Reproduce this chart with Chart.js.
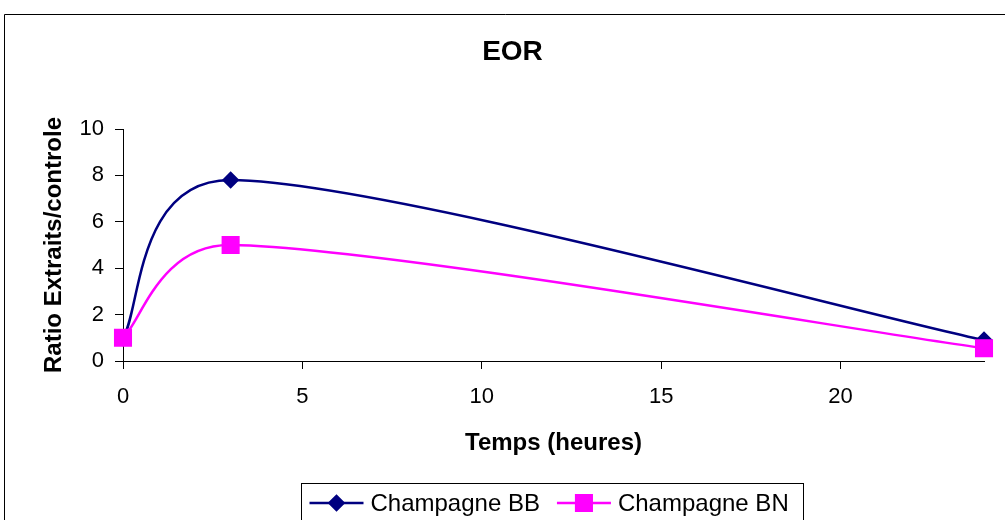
<!DOCTYPE html>
<html>
<head>
<meta charset="utf-8">
<script src="https://cdn.jsdelivr.net/npm/chart.js@4/dist/chart.umd.min.js"></script>
<style>
  html, body { margin: 0; padding: 0; background: #fff; }
  #wrap { width: 1005px; height: 520px; }
</style>
</head>
<body>
<div id="wrap"><canvas id="eorChart"></canvas></div>
<script>
var hours = [0, 3, 24];
var champagneBB = [1, 7.8, 0.9];
var champagneBN = [1, 5, 0.55];
var xTicks = [0, 5, 10, 15, 20];
var yTicks = [0, 2, 4, 6, 8, 10];

var FONT = "'Liberation Sans', Arial, sans-serif";

function toPoints(values) {
    return values.map(function (v, i) { return { x: hours[i], y: v }; });
}

// lissage facon Excel : Catmull-Rom (1/6), bras limites a la moitie du segment voisin
var excelSmooth = {
    id: 'excelSmooth',
    beforeDatasetsDraw: function (chart) {
        chart.getSortedVisibleDatasetMetas().forEach(function (meta) {
            var pts = meta.data, line = meta.dataset;
            if (!line || pts.length < 2) return;
            pts.forEach(function (p, i) {
                var prev = pts[i - 1] || p, next = pts[i + 1] || p;
                var tx = (next.x - prev.x) / 6, ty = (next.y - prev.y) / 6;
                var len = Math.sqrt(tx * tx + ty * ty) || 1;
                var dPrev = Math.sqrt(Math.pow(p.x - prev.x, 2) + Math.pow(p.y - prev.y, 2));
                var dNext = Math.sqrt(Math.pow(next.x - p.x, 2) + Math.pow(next.y - p.y, 2));
                var kPrev = Math.min(1, dPrev / 2 / len), kNext = Math.min(1, dNext / 2 / len);
                p.cp1x = p.x - tx * kPrev;
                p.cp1y = p.y - ty * kPrev;
                p.cp2x = p.x + tx * kNext;
                p.cp2y = p.y + ty * kNext;
            });
            line._pointsUpdated = true;
        });
    }
};

// cadre exterieur + legende encadree
var excelFrame = {
    id: 'excelFrame',
    beforeDraw: function (chart) {
        var ctx = chart.ctx;
        ctx.save();
        ctx.fillStyle = '#fff';
        ctx.fillRect(0, 0, chart.width, chart.height);
        ctx.strokeStyle = '#000';
        ctx.lineWidth = 1;
        ctx.beginPath();
        ctx.moveTo(4.5, chart.height + 2);
        ctx.lineTo(4.5, 14.5);
        ctx.lineTo(chart.width + 2, 14.5);
        ctx.stroke();
        ctx.restore();
    },
    afterDraw: function (chart) {
        var ctx = chart.ctx;
        var sets = chart.data.datasets;
        ctx.save();
        ctx.font = '24px ' + FONT;
        ctx.textBaseline = 'middle';
        var boxLeft = 301.5, boxTop = 483.5, boxW = 502;
        ctx.strokeStyle = '#000';
        ctx.lineWidth = 1;
        ctx.strokeRect(boxLeft, boxTop, boxW, 60);
        var x = boxLeft + 8, y = 503;
        sets.forEach(function (ds) {
            ctx.strokeStyle = ds.borderColor;
            ctx.lineWidth = 2.5;
            ctx.beginPath();
            ctx.moveTo(x, y);
            ctx.lineTo(x + 54, y);
            ctx.stroke();
            Chart.helpers.drawPoint(ctx, {
                pointStyle: ds.pointStyle,
                radius: ds.pointRadius,
                borderWidth: 1
            }, x + 27, y);
            ctx.fillStyle = ds.pointBackgroundColor;
            ctx.fill();
            ctx.fillStyle = '#000';
            ctx.fillText(ds.label, x + 61, y + 1);
            x += 61 + ctx.measureText(ds.label).width + 17;
        });
        ctx.restore();
    }
};

var ctxEl = document.getElementById('eorChart');
var eorChart = new Chart(ctxEl, {
    type: 'line',
    data: {
        datasets: [{
                label: 'Champagne BB',
                data: toPoints(champagneBB),
                borderColor: '#000080',
                backgroundColor: '#000080',
                pointBackgroundColor: '#000080',
                pointBorderColor: '#000080',
                pointStyle: 'rectRot',
                pointRadius: 7,
                pointHoverRadius: 7,
                borderWidth: 2.5,
                tension: 0.2,
                order: 1,
                clip: false
            }, {
                label: 'Champagne BN',
                data: toPoints(champagneBN),
                borderColor: '#FF00FF',
                backgroundColor: '#FF00FF',
                pointBackgroundColor: '#FF00FF',
                pointBorderColor: '#FF00FF',
                pointStyle: 'rect',
                pointRadius: 11,
                pointHoverRadius: 11,
                borderWidth: 2.5,
                tension: 0.2,
                order: 0,
                clip: false
            }]
    },
    options: {
        responsive: true,
        maintainAspectRatio: false,
        animation: false,
        layout: {
            padding: { top: 0, left: 41, right: 21, bottom: 64 }
        },
        plugins: {
            legend: { display: false },
            tooltip: { enabled: false },
            title: {
                display: true,
                text: 'EOR',
                color: '#000',
                font: { family: FONT, size: 28, weight: 'bold' },
                padding: { top: 35, bottom: 60.4 }
            }
        },
        scales: {
            x: {
                type: 'linear',
                min: 0,
                max: 24,
                afterFit: function (scale) { scale.height = 95; },
                afterBuildTicks: function (scale) {
                    scale.ticks = xTicks.map(function (v) { return { value: v }; });
                },
                ticks: {
                    color: '#000',
                    font: { family: FONT, size: 22 },
                    padding: 15,
                    maxRotation: 0
                },
                grid: {
                    display: true,
                    drawOnChartArea: false,
                    drawTicks: true,
                    tickLength: 8,
                    color: '#000'
                },
                border: { display: true, color: '#000', width: 1 },
                title: {
                    display: true,
                    text: 'Temps (heures)',
                    color: '#000',
                    font: { family: FONT, size: 24, weight: 'bold' },
                    padding: { top: 0, bottom: -2 }
                }
            },
            y: {
                min: 0,
                max: 10,
                afterFit: function (scale) { scale.width = 82; },
                afterBuildTicks: function (scale) {
                    scale.ticks = yTicks.map(function (v) { return { value: v }; });
                },
                ticks: {
                    color: '#000',
                    font: { family: FONT, size: 22 },
                    padding: 11
                },
                grid: {
                    display: true,
                    drawOnChartArea: false,
                    drawTicks: true,
                    tickLength: 8,
                    color: '#000'
                },
                border: { display: true, color: '#000', width: 1 },
                title: {
                    display: true,
                    text: 'Ratio Extraits/controle',
                    color: '#000',
                    font: { family: FONT, size: 24, weight: 'bold' },
                    padding: { top: -1, bottom: 0 }
                }
            }
        }
    },
    plugins: [excelSmooth, excelFrame]
});
</script>
</body>
</html>
